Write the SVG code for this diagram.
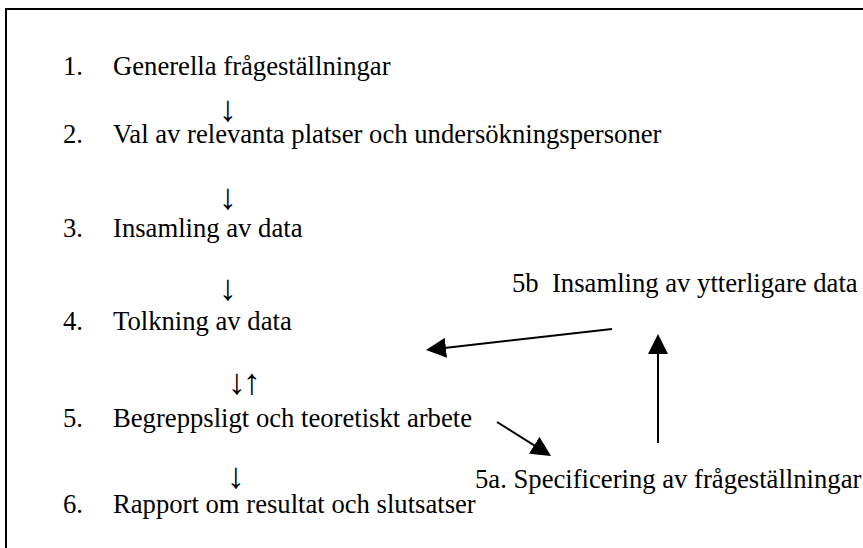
<svg xmlns="http://www.w3.org/2000/svg" width="863" height="548" viewBox="0 0 863 548">
<style>
text{font-family:"Liberation Serif","Times New Roman",serif;font-size:26.67px;fill:#000}
.arr{text-anchor:middle;font-size:36px;font-family:"Liberation Serif","DejaVu Serif",serif}
.con{stroke:#000;stroke-width:2;fill:none}
</style>
<defs>
<marker id="ah" markerUnits="userSpaceOnUse" markerWidth="20" markerHeight="20" refX="17" refY="10" orient="auto" viewBox="0 0 20 20">
<path d="M0,0 L20,10 L0,20 z" fill="#000"/>
</marker>
</defs>
<rect width="863" height="548" fill="#fff"/>
<path d="M6,548 V9 H863" stroke="#000" stroke-width="2" fill="none"/>
<g id="n1"><text x="63" y="75">1.</text><text x="113" y="75">Generella frågeställningar</text></g>
<g id="n2"><text x="63" y="143">2.</text><text x="113" y="143">Val av relevanta platser och undersökningspersoner</text></g>
<g id="n3"><text x="63" y="237">3.</text><text x="113" y="237">Insamling av data</text></g>
<g id="n4"><text x="63" y="330">4.</text><text x="113" y="330">Tolkning av data</text></g>
<g id="n5"><text x="63" y="427">5.</text><text x="113" y="427">Begreppsligt och teoretiskt arbete</text></g>
<g id="n6"><text x="63" y="513">6.</text><text x="113" y="513">Rapport om resultat och slutsatser</text></g>
<g id="n5b"><text x="512" y="292" xml:space="preserve">5b  Insamling av ytterligare data</text></g>
<g id="n5a"><text x="475" y="488">5a. Specificering av frågeställningar</text></g>
<g id="connectors">
<text class="arr" x="228" y="121">↓</text>
<text class="arr" x="228" y="209">↓</text>
<text class="arr" x="228" y="300">↓</text>
<text class="arr" x="243" y="394" letter-spacing="-3">↓↑</text>
<text class="arr" x="236" y="488">↓</text>
<line class="con" x1="612" y1="329" x2="429" y2="349.7" marker-end="url(#ah)"/>
<line class="con" x1="658" y1="443" x2="658" y2="337" marker-end="url(#ah)"/>
<line class="con" x1="497" y1="422" x2="548.5" y2="454.4" marker-end="url(#ah)"/>
</g>
</svg>
